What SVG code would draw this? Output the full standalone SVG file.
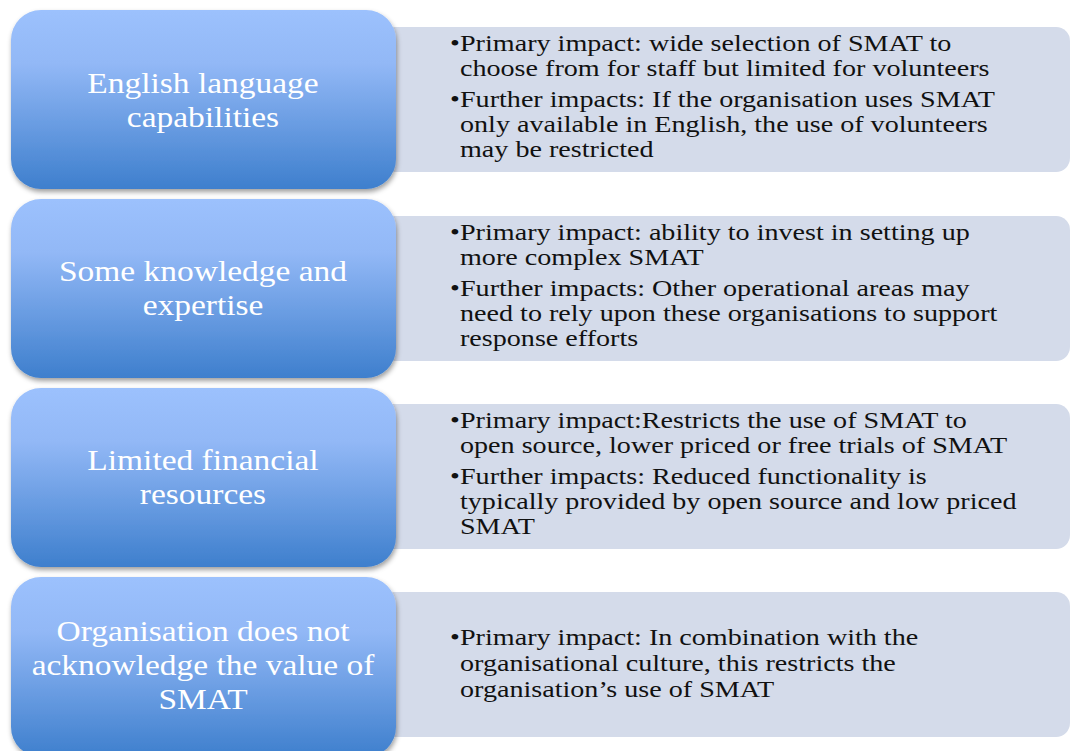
<svg xmlns="http://www.w3.org/2000/svg" width="1071" height="751" viewBox="0 0 1071 751">
  <defs>
    <linearGradient id="blueFill" x1="0" y1="0" x2="0" y2="1">
      <stop offset="0" stop-color="#9cc1fd"/>
      <stop offset="0.3" stop-color="#92b8f6"/>
      <stop offset="1" stop-color="#3e7fcd"/>
    </linearGradient>
    <filter id="shadow" x="-10%" y="-10%" width="125%" height="130%">
      <feDropShadow dx="1" dy="3" stdDeviation="2.5" flood-color="#000" flood-opacity="0.38"/>
    </filter>
    <style>
      .head { fill: url(#blueFill); filter: url(#shadow); }
      .panel { fill: #d4dbea; }
      .headText { font-family: "Liberation Serif", "DejaVu Serif", serif; font-size: 30px; fill: #ffffff; text-anchor: middle; }
      .body { font-family: "Liberation Serif", "DejaVu Serif", serif; font-size: 22.5px; fill: #111111; }
    </style>
  </defs>

  <rect width="1071" height="751" fill="#ffffff"/>

  <!-- right-hand impact panels -->
  <g id="panels">
    <rect class="panel" x="380" y="27" width="690" height="145" rx="14"/>
    <rect class="panel" x="380" y="216" width="690" height="145" rx="14"/>
    <rect class="panel" x="380" y="404" width="690" height="145" rx="14"/>
    <rect class="panel" x="380" y="592" width="690" height="145" rx="14"/>
  </g>

  <g id="row-english">
    <rect class="head" x="11" y="10" width="385" height="179" rx="30"/>
    <!-- labels widened around the box centre line x=203 -->
    <g transform="translate(203,0) scale(1.115,1) translate(-203,0)">
      <text class="headText" x="203" y="93">English language</text>
      <text class="headText" x="203" y="127">capabilities</text>
    </g>
    <!-- bullet text widened around its left margin x=460 -->
    <g transform="translate(460,0) scale(1.25,1) translate(-460,0)">
      <text class="body" y="51"><tspan x="452">•</tspan><tspan x="460">Primary impact: wide selection of SMAT to</tspan></text>
      <text class="body" x="460" y="76">choose from for staff but limited for volunteers</text>
      <text class="body" y="107"><tspan x="452">•</tspan><tspan x="460">Further impacts: If the organisation uses SMAT</tspan></text>
      <text class="body" x="460" y="132">only available in English, the use of volunteers</text>
      <text class="body" x="460" y="157">may be restricted</text>
    </g>
  </g>

  <g id="row-knowledge">
    <rect class="head" x="11" y="199" width="385" height="179" rx="30"/>
    <g transform="translate(203,0) scale(1.115,1) translate(-203,0)">
      <text class="headText" x="203" y="281">Some knowledge and</text>
      <text class="headText" x="203" y="315">expertise</text>
    </g>
    <g transform="translate(460,0) scale(1.25,1) translate(-460,0)">
      <text class="body" y="240"><tspan x="452">•</tspan><tspan x="460">Primary impact: ability to invest in setting up</tspan></text>
      <text class="body" x="460" y="265">more complex SMAT</text>
      <text class="body" y="296"><tspan x="452">•</tspan><tspan x="460">Further impacts: Other operational areas may</tspan></text>
      <text class="body" x="460" y="321">need to rely upon these organisations to support</text>
      <text class="body" x="460" y="346">response efforts</text>
    </g>
  </g>

  <g id="row-finance">
    <rect class="head" x="11" y="388" width="385" height="179" rx="30"/>
    <g transform="translate(203,0) scale(1.115,1) translate(-203,0)">
      <text class="headText" x="203" y="470">Limited financial</text>
      <text class="headText" x="203" y="504">resources</text>
    </g>
    <g transform="translate(460,0) scale(1.25,1) translate(-460,0)">
      <text class="body" y="428"><tspan x="452">•</tspan><tspan x="460">Primary impact:Restricts the use of SMAT to</tspan></text>
      <text class="body" x="460" y="453">open source, lower priced or free trials of SMAT</text>
      <text class="body" y="484"><tspan x="452">•</tspan><tspan x="460">Further impacts: Reduced functionality is</tspan></text>
      <text class="body" x="460" y="509">typically provided by open source and low priced</text>
      <text class="body" x="460" y="534">SMAT</text>
    </g>
  </g>

  <g id="row-value">
    <rect class="head" x="11" y="577" width="385" height="180" rx="30"/>
    <g transform="translate(203,0) scale(1.115,1) translate(-203,0)">
      <text class="headText" x="203" y="641">Organisation does not</text>
      <text class="headText" x="203" y="675">acknowledge the value of</text>
      <text class="headText" x="203" y="709">SMAT</text>
    </g>
    <g transform="translate(460,0) scale(1.25,1) translate(-460,0)">
      <text class="body" y="645"><tspan x="452">•</tspan><tspan x="460">Primary impact: In combination with the</tspan></text>
      <text class="body" x="460" y="671">organisational culture, this restricts the</text>
      <text class="body" x="460" y="697">organisation’s use of SMAT</text>
    </g>
  </g>
</svg>
